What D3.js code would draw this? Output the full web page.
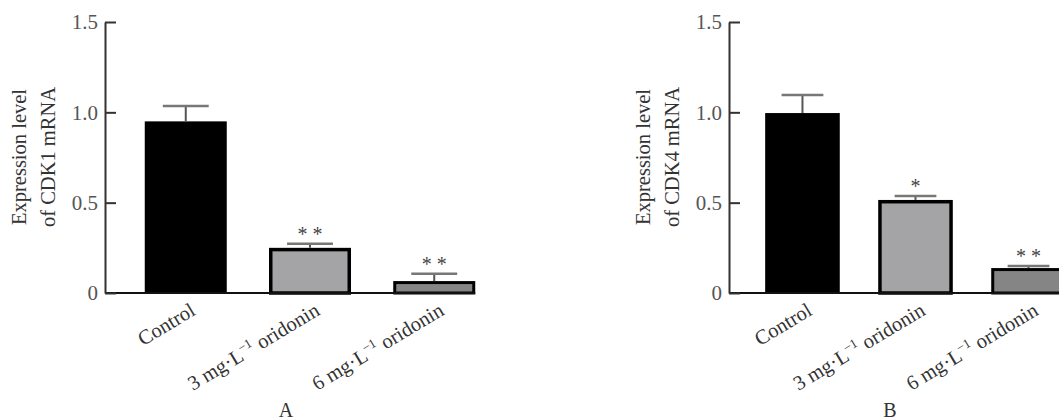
<!DOCTYPE html>
<html>
<head>
<meta charset="utf-8">
<script src="https://cdn.jsdelivr.net/npm/d3@7"></script>
<style>
  body { margin: 0; background: #fff; }
  svg text { font-family: "Liberation Serif", "DejaVu Serif", serif; }
</style>
</head>
<body>
<div id="chart"></div>
<script>
(function () {
  "use strict";

  ////////////////////////////////////////////////////////////////////////////////////////////////////////////
  //
  // Data
  //
  var groups = ["Control", "3 mg", "6 mg"];
  var cdk1_values = [0.95, 0.25, 0.066];
  var cdk1_errors = [0.085, 0.022, 0.04];
  var cdk1_marks = ["", "* *", "* *"];
  var cdk4_values = [0.996, 0.515, 0.138];
  var cdk4_errors = [0.10, 0.022, 0.012];
  var cdk4_marks = ["", "*", "* *"];
  var y_ticks = [0, 0.5, 1.0, 1.5];
  var y_tick_labels = ["0", "0.5", "1.0", "1.5"];
  var bar_fills = ["#000000", "#a4a4a7", "#858585"];
  var bar_strokes = [0, 3.5, 3];

  ////////////////////////////////////////////////////////////////////////////////////////////////////////////
  //
  // Canvas
  //
  var width = 1059;
  var height = 420;
  var svg = d3.select("#chart")
    .append("svg")
    .attr("width", width)
    .attr("height", height);

  var y = d3.scaleLinear().domain([0, 1.5]).range([293, 22]);

  ////////////////////////////////////////////////////////////////////////////////////////////////////////////
  //
  // One panel
  //
  function drawPanel(s) {
    var x = d3.scaleBand()
      .domain(groups)
      .range([s.x0, s.x1])
      .paddingInner(0.34)
      .paddingOuter(0.32);
    var bw = x.bandwidth();
    var g = svg.append("g");

    // Bars
    g.selectAll("rect.bar")
      .data(s.values)
      .enter()
      .append("rect")
      .attr("class", "bar")
      .attr("x", function (d, i) { return x(groups[i]) + bar_strokes[i] / 2; })
      .attr("y", function (d, i) { return y(d) + bar_strokes[i] / 2; })
      .attr("width", function (d, i) { return bw - bar_strokes[i]; })
      .attr("height", function (d, i) { return y(0) - y(d) - bar_strokes[i] / 2; })
      .attr("fill", function (d, i) { return bar_fills[i]; })
      .attr("stroke", "#000")
      .attr("stroke-width", function (d, i) { return bar_strokes[i]; });

    // Error bars (upper only)
    s.values.forEach(function (d, i) {
      var cx = x(groups[i]) + bw / 2;
      var top = y(d + s.errors[i]);
      g.append("line")
        .attr("x1", cx).attr("x2", cx)
        .attr("y1", y(d)).attr("y2", top)
        .attr("stroke", "#555").attr("stroke-width", 2);
      g.append("line")
        .attr("x1", cx - bw * 0.28).attr("x2", cx + bw * 0.28)
        .attr("y1", top).attr("y2", top)
        .attr("stroke", "#777").attr("stroke-width", 2.5);
      if (s.marks[i]) {
        g.append("text")
          .attr("x", cx)
          .attr("y", top - 3)
          .attr("text-anchor", "middle")
          .attr("font-size", 20)
          .attr("fill", "#444")
          .text(s.marks[i]);
      }
    });

    // X axis baseline
    g.append("line")
      .attr("x1", s.x0).attr("x2", x(groups[2]) + bw)
      .attr("y1", y(0)).attr("y2", y(0))
      .attr("stroke", "#111").attr("stroke-width", 2);

    // Y axis
    var yAxis = d3.axisLeft(y)
      .tickValues(y_ticks)
      .tickFormat(function (d, i) { return y_tick_labels[i]; })
      .tickSizeInner(-11)
      .tickSizeOuter(0)
      .tickPadding(7);
    var ya = g.append("g")
      .attr("transform", "translate(" + s.x0 + ",0)")
      .call(yAxis);
    ya.select(".domain").attr("stroke", "#333").attr("stroke-width", 2);
    ya.selectAll(".tick line").attr("stroke", "#333").attr("stroke-width", 2);
    ya.selectAll(".tick text")
      .attr("font-size", 21)
      .attr("fill", "#555")
      .attr("font-family", "Liberation Serif");

    // Category labels
    groups.forEach(function (c, i) {
      var cx = x(c) + bw / 2 + 11;
      var t = g.append("text")
        .attr("text-anchor", "end")
        .attr("font-size", 20.5)
        .attr("fill", "#333")
        .attr("transform", "translate(" + cx + "," + (y(0) + 21) + ") rotate(-31)");
      if (i === 0) {
        t.text("Control");
      } else {
        t.append("tspan").text((i === 1 ? "3" : "6") + " mg\u00b7L");
        t.append("tspan").attr("font-size", 13).attr("dy", -8).text("\u22121");
        t.append("tspan").attr("dy", 8).text(" oridonin");
      }
    });

    // Y title
    var title = g.append("text")
      .attr("transform", "translate(" + s.title_x + ",157) rotate(-90)")
      .attr("text-anchor", "middle")
      .attr("font-size", 20.5)
      .attr("fill", "#333");
    title.append("tspan").attr("x", 0).attr("y", 0).text("Expression level");
    title.append("tspan").attr("x", 0).attr("y", 29).text("of " + s.gene + " mRNA");

    // Panel letter
    g.append("text")
      .attr("x", s.letter_x)
      .attr("y", 417)
      .attr("text-anchor", "middle")
      .attr("font-size", 20)
      .attr("fill", "#333")
      .text(s.letter);
  }

  ////////////////////////////////////////////////////////////////////////////////////////////////////////////
  //
  // Draw
  //
  drawPanel({
    x0: 105, x1: 515, values: cdk1_values, errors: cdk1_errors, marks: cdk1_marks,
    gene: "CDK1", title_x: 26, letter: "A", letter_x: 286
  });
  drawPanel({
    x0: 729, x1: 1102, values: cdk4_values, errors: cdk4_errors, marks: cdk4_marks,
    gene: "CDK4", title_x: 650, letter: "B", letter_x: 890
  });
})();
</script>
</body>
</html>
